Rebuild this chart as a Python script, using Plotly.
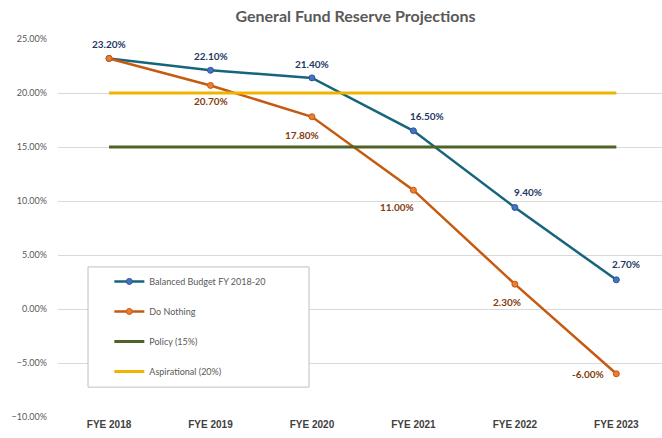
import plotly.graph_objects as go

years = ["FYE 2018", "FYE 2019", "FYE 2020", "FYE 2021", "FYE 2022", "FYE 2023"]
balanced = [23.2, 22.1, 21.4, 16.5, 9.4, 2.7]
do_nothing = [23.2, 20.7, 17.8, 11.0, 2.3, -6.0]
policy = [15, 15, 15, 15, 15, 15]
aspirational = [20, 20, 20, 20, 20, 20]

# label offsets (px) per point
bal_shift = [(0, 14), (0, 14), (0, 14), (14, 15), (13, 15), (10, 16)]
dn_shift = [None, (0, -16), (-10, -18), (-16, -17), (-8, -18), (-28, 0)]

FONT = "Century Gothic, Lato, DejaVu Sans, sans-serif"

fig = go.Figure()
fig.add_trace(go.Scatter(
    x=years, y=balanced, name="Balanced Budget FY 2018-20", mode="lines+markers",
    line=dict(color="#17657D", width=2.5),
    marker=dict(size=6, color="#4472C4", line=dict(color="#2F5597", width=1)),
    legendgroup="a",
))
fig.add_trace(go.Scatter(
    x=years, y=do_nothing, name="Do Nothing", mode="lines+markers",
    line=dict(color="#C55A11", width=2.5),
    marker=dict(size=6, color="#ED7D31", line=dict(color="#C55A11", width=1)),
    legendgroup="b",
))
fig.add_trace(go.Scatter(
    x=years, y=policy, name="Policy (15%)", mode="lines",
    line=dict(color="#4F6228", width=3), legendgroup="c",
))
fig.add_trace(go.Scatter(
    x=years, y=aspirational, name="Aspirational (20%)", mode="lines",
    line=dict(color="#F0B400", width=3), legendgroup="d",
))

for yr, v, s in zip(years, balanced, bal_shift):
    fig.add_annotation(x=yr, y=v, text=f"{v:.2f}%", showarrow=False, xshift=s[0], yshift=s[1],
                       font=dict(family=FONT, size=10, color="#1F3864", weight="bold"))
for yr, v, s in zip(years, do_nothing, dn_shift):
    if s is None:
        continue
    fig.add_annotation(x=yr, y=v, text=f"{v:.2f}%", showarrow=False, xshift=s[0], yshift=s[1],
                       font=dict(family=FONT, size=10, color="#843C0C", weight="bold"))

# legend frame (wider than plotly's auto-sized box)
fig.add_shape(type="rect", xref="paper", yref="paper", x0=0.0497, x1=0.4156, y0=0.079, y1=0.397,
              fillcolor="white", line=dict(color="#BFBFBF", width=1), layer="above")

fig.update_layout(
    width=662, height=438,
    margin=dict(l=58, r=0, t=39, b=21),
    paper_bgcolor="white", plot_bgcolor="white",
    title=dict(text="<b>General Fund Reserve Projections</b>", x=0.537, xanchor="center",
               y=0.962, yanchor="middle",
               font=dict(family=FONT, size=16, color="#595959")),
    legend=dict(
        x=0.085, y=0.397, xanchor="left", yanchor="top",
        bgcolor="rgba(0,0,0,0)", borderwidth=0,
        font=dict(family=FONT, size=9, color="#595959"),
        tracegroupgap=11, itemwidth=30,
    ),
    showlegend=True,
)
fig.update_xaxes(
    type="category", range=[-0.503, 5.45], showgrid=False, showline=False, ticks="",
    tickfont=dict(family="Liberation Sans Narrow, Arial Narrow, sans-serif", size=10,
                  color="#404040", weight="bold"),
)
fig.update_yaxes(
    range=[-10, 25], dtick=5, tick0=0, tickformat=".2f", ticksuffix="%",
    showgrid=True, gridcolor="#D9D9D9", gridwidth=1, zeroline=False, showline=False,
    ticks="", ticklabelstandoff=10,
    tickfont=dict(family=FONT, size=9, color="#595959"),
)

fig.write_html("out.html", config={"displayModeBar": False},
               post_script="document.body.style.margin='0';")
